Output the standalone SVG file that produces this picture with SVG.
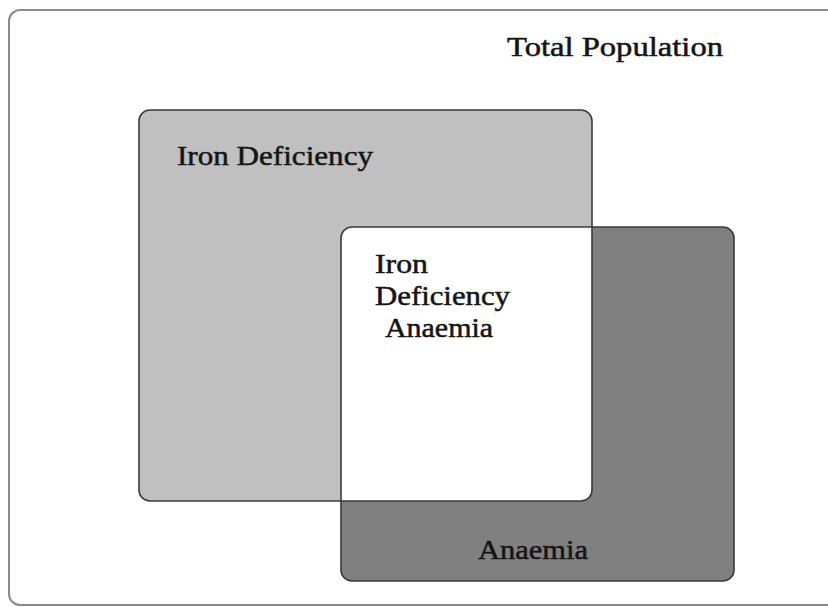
<svg xmlns="http://www.w3.org/2000/svg" width="828" height="607" viewBox="0 0 828 607">
<style>
.lbl{font-family:"Liberation Serif","Times New Roman",serif;font-size:27px;fill:#151515;stroke:#151515;stroke-width:0.5;}
.edge{fill:none;stroke:#3a3a3a;stroke-width:1.6;}
</style>
<rect width="828" height="607" fill="#ffffff"/>
<g id="total-population">
<rect x="9" y="10" width="840" height="595" rx="11" fill="#ffffff" stroke="#8a8a8a" stroke-width="2"/>
<text class="lbl" x="507" y="56" textLength="216" lengthAdjust="spacingAndGlyphs">Total Population</text>
</g>
<g id="anaemia">
<rect x="341" y="227" width="393" height="354" rx="11" fill="#808080"/>
</g>
<g id="iron-deficiency">
<rect x="139" y="110" width="453" height="391" rx="11" fill="#c0c0c0"/>
</g>
<g id="iron-deficiency-anaemia">
<path d="M341,238 A11,11 0 0 1 352,227 L592,227 L592,490 A11,11 0 0 1 581,501 L341,501 Z" fill="#ffffff"/>
</g>
<g id="outlines">
<rect class="edge" x="139" y="110" width="453" height="391" rx="11"/>
<rect class="edge" x="341" y="227" width="393" height="354" rx="11"/>
</g>
<g id="labels">
<text class="lbl" x="177" y="165" textLength="196" lengthAdjust="spacingAndGlyphs">Iron Deficiency</text>
<text class="lbl" x="375" y="273" textLength="53" lengthAdjust="spacingAndGlyphs">Iron</text>
<text class="lbl" x="375" y="305" textLength="135" lengthAdjust="spacingAndGlyphs">Deficiency</text>
<text class="lbl" x="385" y="337" textLength="108" lengthAdjust="spacingAndGlyphs">Anaemia</text>
<text class="lbl" x="478" y="559" textLength="110" lengthAdjust="spacingAndGlyphs">Anaemia</text>
</g>
</svg>
